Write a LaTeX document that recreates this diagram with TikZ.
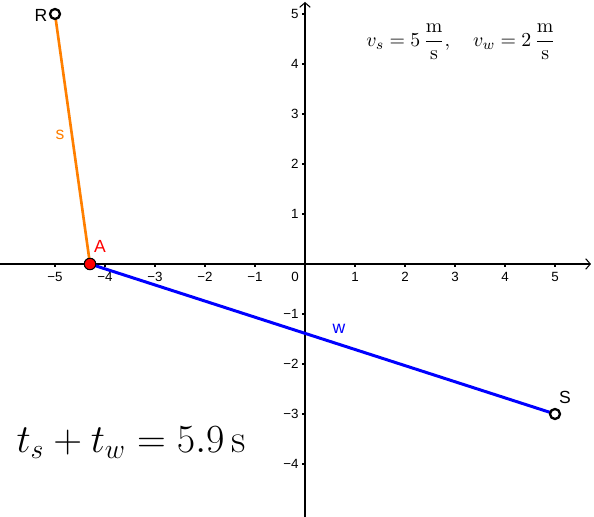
\documentclass[tikz,border=0pt]{standalone}
\usepackage{fontspec}
\newfontfamily\lsans{Liberation Sans}
\usetikzlibrary{arrows.meta}
\definecolor{ggorange}{RGB}{255,127,0}
\definecolor{ggblue}{RGB}{0,0,255}
\definecolor{ggred}{RGB}{255,0,0}
\begin{document}
\begin{tikzpicture}[x=1cm,y=1cm,
  axisline/.style={line width=0.6pt,-{Straight Barb[length=2.6pt,width=6pt,line width=0.6pt]}},
  tickline/.style={line width=0.6pt},
  ticklab/.style={font=\lsans\fontsize{7.6}{9}\selectfont,inner sep=0pt},
  ptlab/.style={font=\lsans\fontsize{10}{12}\selectfont,inner sep=0pt},
  sline/.style={ggorange,line width=1.5pt},
  wline/.style={ggblue,line width=1.7pt},
  openpt/.style={circle,draw=black,fill=white,line width=1.3pt,minimum size=0.2cm,inner sep=0pt},
  redpt/.style={circle,draw=black,fill=ggred,line width=0.6pt,minimum size=0.23cm,inner sep=0pt}]
\useasboundingbox (-6.1,-5.06) rectangle (5.78,5.28);
% axes
\coordinate (xl) at (-6.1,0);
\coordinate (xr) at (5.72,0);
\coordinate (yb) at (0,-5.06);
\coordinate (yt) at (0,5.24);
\draw[axisline] (xl) -- (xr);
\draw[axisline] (yb) -- (yt);
\foreach \i in {-5,-4,-3,-2,-1,1,2,3,4,5}{
  \draw[tickline] (\i,0) -- (\i,-0.06);
  \node[ticklab] (xt\i) at (\i,-0.26) {\ifnum\i<0 −\the\numexpr-\i\relax\else\i\fi};
}
\foreach \i in {-4,-3,-2,-1,1,2,3,4,5}{
  \draw[tickline] (0,\i) -- (-0.06,\i);
  \node[ticklab,anchor=east] (yt\i) at (-0.12,\i) {\ifnum\i<0 −\the\numexpr-\i\relax\else\i\fi};
}
\node[ticklab] (origin) at (-0.2,-0.26) {0};
% points
\coordinate (R) at (-5,5);
\coordinate (A) at (-4.3,0);
\coordinate (S) at (5,-3);
\draw[sline] (R) -- (A);
\draw[wline] (A) -- (S);
\node[openpt] (Rp) at (R) {};
\node[openpt] (Sp) at (S) {};
\node[redpt] (Ap) at (A) {};
\node[ptlab] (Rl) at (-5.28,4.97) {R};
\node[ptlab] (Sl) at (5.2,-2.66) {S};
\node[ptlab,text=ggred] (Al) at (-4.1,0.35) {A};
\node[ptlab,text=ggorange] (sl) at (-4.9,2.58) {s};
\node[ptlab,text=ggblue] (wl) at (0.68,-1.3) {w};
% formulas
\node[font=\fontsize{10.95}{13}\selectfont,inner sep=0pt,scale=1.03] (vf) at (3.12,4.44)
  {$v_s=5\,\displaystyle\frac{\mathrm{m}}{\mathrm{s}},\quad v_w=2\,\displaystyle\frac{\mathrm{m}}{\mathrm{s}}$};
\node[font=\fontsize{20.74}{25}\selectfont,inner sep=0pt,anchor=base,scale=1.095] (tf) at (-3.48,-3.78)
  {$t_s+t_w=5.9\,\mathrm{s}$};
\end{tikzpicture}
\end{document}
